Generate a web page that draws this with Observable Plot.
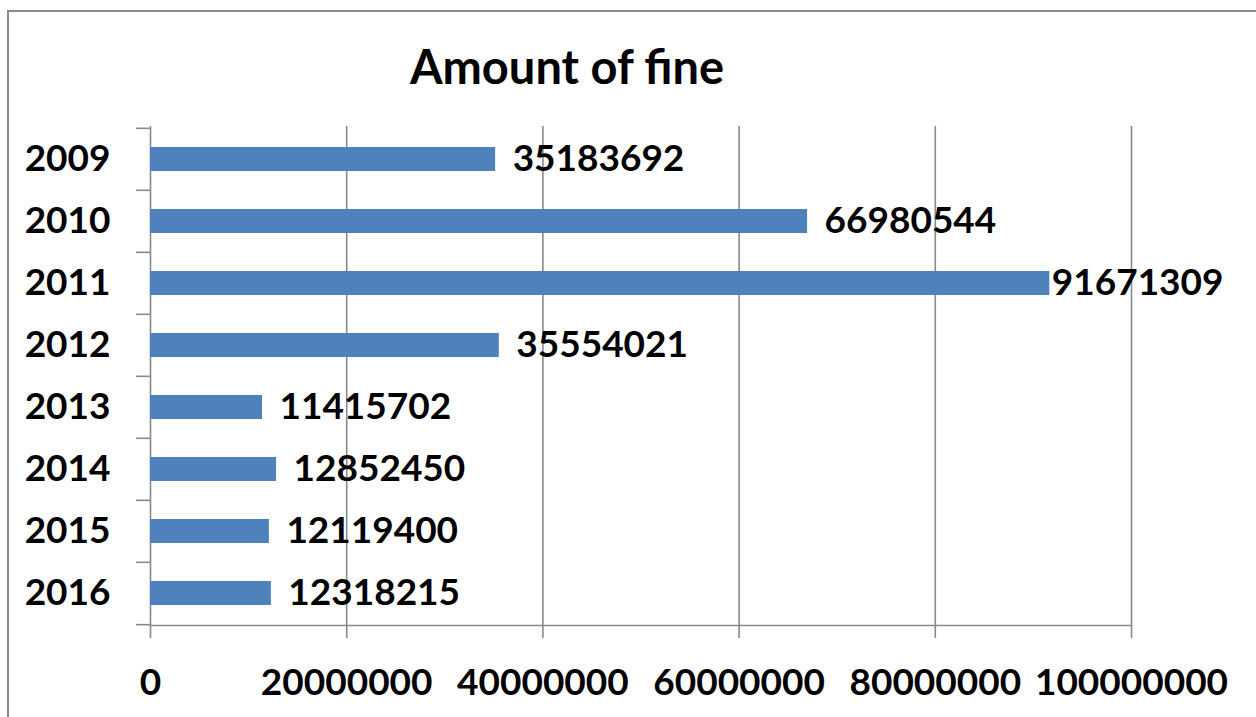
<!DOCTYPE html>
<html>
<head>
<meta charset="utf-8">
<script src="https://cdn.jsdelivr.net/npm/d3@7"></script>
<script src="https://cdn.jsdelivr.net/npm/@observablehq/plot@0.6"></script>
<style>
  html, body { margin: 0; padding: 0; background: #fff; }
  #wrap { position: relative; width: 1256px; height: 717px; overflow: hidden; background: #fff; }
  #border { position: absolute; left: 7px; top: 10px; width: 1300px; height: 800px;
            border: 2px solid #8a8a8a; box-sizing: border-box; }
  #title { position: absolute; left: 567px; top: 43px; transform: translateX(-50%);
           font-family: Lato, "Open Sans", sans-serif; font-weight: 700; font-size: 47px;
           color: #000; white-space: nowrap; line-height: 1; }
  #chart { position: absolute; left: 0; top: 110px; }
</style>
</head>
<body>
<div id="wrap">
  <div id="border"></div>
  <div id="title">Amount of fine</div>
  <div id="chart"></div>
</div>
<script>
// Yearly amount of fines
const years = ["2009", "2010", "2011", "2012", "2013", "2014", "2015", "2016"];
const fines = [35183692, 66980544, 91671309, 35554021, 11415702, 12852450, 12119400, 12318215];
const xTicks = [0, 20000000, 40000000, 60000000, 80000000, 100000000];

const rows = years.map((year, i) => ({year, value: fines[i]}));

const W = 1256, H = 607;
const mTop = 16, mBottom = 92, mLeft = 150, mRight = 125;
const step = (H - mTop - mBottom) / years.length;   // band step (outer padding = inner / 2)
const gray = "#8a8a8a";
const font = "Lato, 'Open Sans', sans-serif";
const fs = 37;
const maxFine = d3.max(fines);

const plot = Plot.plot({
  width: W,
  height: H,
  marginTop: mTop,
  marginBottom: mBottom,
  marginLeft: mLeft,
  marginRight: mRight,
  style: {fontFamily: font, background: "transparent", overflow: "visible"},
  x: {domain: [0, 100000000], ticks: xTicks},
  y: {domain: years, paddingInner: 0.615, paddingOuter: 0.3075, label: null},
  marks: [
    // vertical gridlines (the one at 0 doubles as the category axis line)
    Plot.ruleX(xTicks, {stroke: gray, strokeWidth: 1.6}),
    // value axis line
    Plot.frame({anchor: "bottom", stroke: gray, strokeWidth: 1.6}),
    // value axis ticks and labels
    Plot.axisX({
      ticks: xTicks, tickSize: 13, tickPadding: 30, stroke: gray, strokeWidth: 1.6,
      tickFormat: d => String(d), fontSize: fs, fontWeight: 700, fill: "#000", label: null
    }),
    // category boundary ticks
    Plot.axisY({ticks: years, tickSize: 14, dy: -step / 2, stroke: gray, strokeWidth: 1.6, fill: "none", label: null}),
    Plot.axisY({ticks: years.slice(-1), tickSize: 14, dy: step / 2, stroke: gray, strokeWidth: 1.6, fill: "none", label: null}),
    // category labels
    Plot.axisY({tickSize: 0, tickPadding: 40, fontSize: fs, fontWeight: 700, fill: "#000", label: null}),
    // bars
    Plot.barX(rows, {x: "value", y: "year", fill: "#4F81BD"}),
    // value labels; the longest bar keeps its label tight to fit the chart
    Plot.text(rows, {
      filter: d => d.value !== maxFine,
      x: "value", y: "year", text: d => String(d.value),
      textAnchor: "start", dx: 17, fontSize: fs, fontWeight: 700, fill: "#000"
    }),
    Plot.text(rows, {
      filter: d => d.value === maxFine,
      x: "value", y: "year", text: d => String(d.value),
      textAnchor: "start", dx: 2, fontSize: fs, fontWeight: 700, fill: "#000"
    })
  ]
});

document.getElementById("chart").appendChild(plot);
</script>
</body>
</html>
